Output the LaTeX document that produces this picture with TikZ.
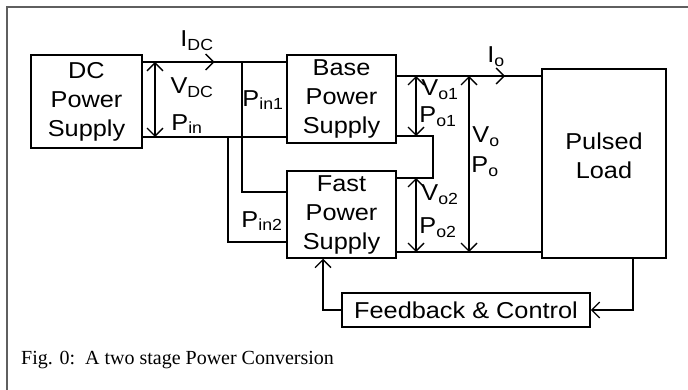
\documentclass[tikz,border=0pt]{standalone}
\usepackage{fontspec}
\setmainfont{Liberation Serif}
\newfontfamily\diagfont[FakeStretch=1.1]{Liberation Sans}
\usepackage{tikz}
\usetikzlibrary{calc, positioning, arrows.meta, decorations.markings}
\usepackage{xcolor}
\definecolor{framegrey}{RGB}{95,95,95}
\tikzset{
    supplybox/.style={draw, line width=1.5pt, inner sep=0pt, align=center, font=\diagfont\fontsize{23}{29}\selectfont},
    wire/.style={line width=1.4pt},
    voltarrow/.style={{Straight Barb[length=8pt,width=16pt]}-{Straight Barb[length=8pt,width=16pt]}, line width=1.4pt},
    feedarrow/.style={-{Straight Barb[length=8pt,width=16pt]}, line width=1.4pt},
    currentarrow/.style={postaction={decorate}, decoration={markings, mark=at position #1 with {\arrow{Straight Barb[length=8pt,width=16pt]}}}},
    qty/.style={font=\diagfont\fontsize{23}{29}\selectfont, inner sep=0pt}
}

\begin{document}
\begin{tikzpicture}[x=1pt,y=-1pt]
            \useasboundingbox (0,0) rectangle (688,390);
            \draw[framegrey, line width=2pt] (688,7) -- (7,7) -- (7,390);
            % blocks
            \node[supplybox, minimum width=111pt, minimum height=93pt] (dcps) at (86.5,101.5) {DC\\Power\\Supply};
            \node[supplybox, minimum width=109pt, minimum height=88pt] (baseps) at (341.5,99) {Base\\Power\\Supply};
            \node[supplybox, minimum width=109pt, minimum height=87pt] (fastps) at (341.5,214.5) {Fast\\Power\\Supply};
            \node[supplybox, minimum width=124pt, minimum height=189pt, label={[qty, align=center, yshift=8pt]center:Pulsed\\Load}] (load) at (604,163.5) {};
            \node[supplybox, minimum width=248pt, minimum height=34pt] (fb) at (466,310) {Feedback \& Control};
            % rails
            \coordinate (dchi) at (0,62);
            \coordinate (dclo) at (0,137);
            \coordinate (tapA) at (242,62);
            \coordinate (tapB) at (228,137);
            \coordinate (fastinA) at (0,192);
            \coordinate (fastinB) at (0,242);
            \coordinate (outhi) at (0,76);
            \coordinate (basecommon) at (0,136);
            \coordinate (fasthi) at (0,178);
            \coordinate (outlo) at (0,252);
            \coordinate (seriesx) at (433,0);
            \coordinate (fbleft) at (323,0);
            \coordinate (fbright) at (633,0);
            \coordinate (vdcx) at (155,0);
            \coordinate (vpartx) at (416,0);
            \coordinate (voutx) at (469,0);
            \draw[wire, currentarrow=0.5] (dcps.east |- dchi) -- (baseps.west |- dchi);
            \draw[wire] (dcps.east |- dclo) -- (baseps.west |- dclo);
            \draw[wire] (tapA) |- (fastps.west |- fastinA);
            \draw[wire] (tapB) |- (fastps.west |- fastinB);
            \draw[wire, currentarrow=0.75] (baseps.east |- outhi) -- (load.west |- outhi);
            \draw[wire] (baseps.east |- basecommon) -| (seriesx |- fasthi) -- (fastps.east |- fasthi);
            \draw[wire] (fastps.east |- outlo) -- (load.west |- outlo);
            \draw[feedarrow] (load.south -| fbright) |- (fb.east);
            \draw[feedarrow] (fb.west) -| (fastps.south -| fbleft);
            % voltages
            \draw[voltarrow] (vdcx |- dchi) -- (vdcx |- dclo);
            \draw[voltarrow] (vpartx |- outhi) -- (vpartx |- basecommon);
            \draw[voltarrow] (vpartx |- fasthi) -- (vpartx |- outlo);
            \draw[voltarrow] (voutx |- outhi) -- (voutx |- outlo);
            % labels
            \node[qty] (idc) at (197,41) {I\textsubscript{DC}};
            \node[qty] (vdc) at (192,88) {V\textsubscript{DC}};
            \node[qty] (pin) at (187,124) {P\textsubscript{in}};
            \node[qty] (pinA) at (263,100) {P\textsubscript{in1}};
            \node[qty] (pinB) at (262,221) {P\textsubscript{in2}};
            \node[qty] (io) at (496,57) {I\textsubscript{o}};
            \node[qty] (voA) at (440,90) {V\textsubscript{o1}};
            \node[qty] (poA) at (438,117) {P\textsubscript{o1}};
            \node[qty] (vo) at (486,137) {V\textsubscript{o}};
            \node[qty] (po) at (485,167) {P\textsubscript{o}};
            \node[qty] (voB) at (440,195) {V\textsubscript{o2}};
            \node[qty] (poB) at (438,228) {P\textsubscript{o2}};
            \node[anchor=base west, inner sep=0pt, font=\fontsize{20}{24}\selectfont] (caption) at (21,364) {Fig. 0:\ \ A two stage Power Conversion};
\end{tikzpicture}
\end{document}
